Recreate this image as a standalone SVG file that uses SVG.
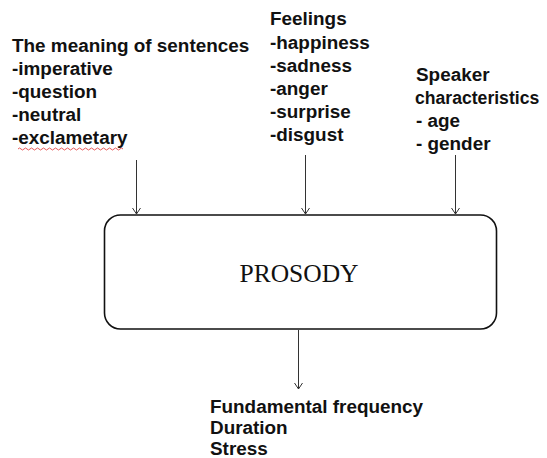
<svg xmlns="http://www.w3.org/2000/svg" width="547" height="458" viewBox="0 0 547 458">
<defs>
<marker id="arr" markerWidth="10" markerHeight="10" refX="9" refY="5" orient="auto" markerUnits="userSpaceOnUse" viewBox="0 0 10 10">
<path d="M3,1 L9,5 L3,9" fill="none" stroke="#333" stroke-width="1"/>
</marker>
</defs>
<style>
.lbl{font-family:"Liberation Sans",Arial,sans-serif;font-weight:bold;font-size:18.9px;fill:#111}
.sm{font-size:17.6px}
.conn{stroke:#333;stroke-width:1;fill:none}
.box{fill:#fff;stroke:#111;stroke-width:1.6}
.title{font-family:"Liberation Serif","Times New Roman",serif;font-size:25.5px;fill:#111}
</style>
<rect width="547" height="458" fill="#fff"/>
<g id="meaning">
<text class="lbl" x="12" y="52">The meaning of sentences</text>
<text class="lbl" x="12" y="75">-imperative</text>
<text class="lbl" x="12" y="98">-question</text>
<text class="lbl" x="12" y="121">-neutral</text>
<text class="lbl" x="12" y="144">-exclametary</text>
<path d="M18,149 q1.5,-2 3,0 t3,0 t3,0 t3,0 t3,0 t3,0 t3,0 t3,0 t3,0 t3,0 t3,0 t3,0 t3,0 t3,0 t3,0 t3,0 t3,0 t3,0 t3,0 t3,0 t3,0 t3,0 t3,0 t3,0 t3,0 t3,0 t3,0 t3,0 t3,0 t3,0 t3,0 t3,0 t3,0 t3,0 t3,0" fill="none" stroke="#e03030" stroke-width="0.8"/>
</g>
<g id="feelings">
<text class="lbl" x="270" y="25">Feelings</text>
<text class="lbl" x="270" y="49">-happiness</text>
<text class="lbl" x="270" y="72">-sadness</text>
<text class="lbl" x="270" y="95">-anger</text>
<text class="lbl" x="270" y="118">-surprise</text>
<text class="lbl" x="270" y="141">-disgust</text>
</g>
<g id="speaker">
<text class="lbl" x="416" y="81">Speaker</text>
<text class="lbl sm" x="415" y="104">characteristics</text>
<text class="lbl" x="416" y="127">- age</text>
<text class="lbl" x="416" y="150">- gender</text>
</g>
<g id="prosody">
<rect class="box" x="104.5" y="215" width="392" height="114" rx="16" ry="16"/>
<text class="title" x="299" y="282" text-anchor="middle">PROSODY</text>
</g>
<g id="output">
<text class="lbl" x="210" y="413">Fundamental frequency</text>
<text class="lbl" x="210" y="434">Duration</text>
<text class="lbl" x="210" y="455">Stress</text>
</g>
<g id="connectors">
<line class="conn" x1="136.5" y1="160" x2="136.5" y2="214" marker-end="url(#arr)"/>
<line class="conn" x1="305.5" y1="155" x2="305.5" y2="214" marker-end="url(#arr)"/>
<line class="conn" x1="455.5" y1="155" x2="455.5" y2="214" marker-end="url(#arr)"/>
<line class="conn" x1="298.5" y1="330" x2="298.5" y2="389" marker-end="url(#arr)"/>
</g>
</svg>
